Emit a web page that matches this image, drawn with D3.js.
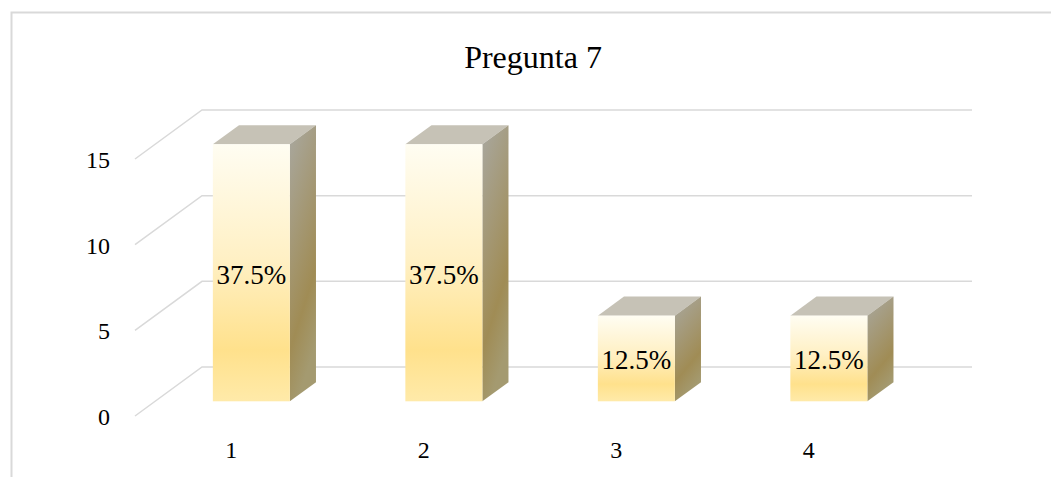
<!DOCTYPE html>
<html>
<head>
<meta charset="utf-8">
<script src="https://cdn.jsdelivr.net/npm/d3@7"></script>
<style>
body{margin:0;background:#fff;}
text{font-family:"Liberation Serif","Times New Roman",serif;fill:#000;}
</style>
</head>
<body>
<svg width="1051" height="477"></svg>
<script>
var categories = ["1", "2", "3", "4"];
var values = [15, 15, 5, 5];
var labels = ["37.5%", "37.5%", "12.5%", "12.5%"];
var yTicks = [0, 5, 10, 15];
var title = "Pregunta 7";

var svg = d3.select("svg");
var depthX = 67, depthY = -49;   // floor depth (front -> back wall)
var barFront = 0.3, barDepth = 0.39;

var xScale = d3.scaleBand().domain(categories).range([135, 905]).paddingInner(0.6).paddingOuter(0.3);
var yScale = d3.scaleLinear().domain([0, 15]).range([416, 159]);

// gradients
var defs = svg.append("defs");
var gf = defs.append("linearGradient").attr("id", "front").attr("x1", 0).attr("y1", 0).attr("x2", 0).attr("y2", 1);
gf.append("stop").attr("offset", "0%").attr("stop-color", "#fffdf2");
gf.append("stop").attr("offset", "45%").attr("stop-color", "#fff0c4");
gf.append("stop").attr("offset", "80%").attr("stop-color", "#ffe18c");
gf.append("stop").attr("offset", "100%").attr("stop-color", "#ffeaa9");
var gs = defs.append("linearGradient").attr("id", "side").attr("x1", 0).attr("y1", 0).attr("x2", 0.3).attr("y2", 1);
gs.append("stop").attr("offset", "0%").attr("stop-color", "#a9a8a0");
gs.append("stop").attr("offset", "75%").attr("stop-color", "#a08c55");
gs.append("stop").attr("offset", "100%").attr("stop-color", "#a49a70");

// chart border
svg.append("rect").attr("x", 11.5).attr("y", 12.5).attr("width", 1060).attr("height", 480)
  .style("fill", "none").style("stroke", "#d9d9d9").style("stroke-width", 2);

svg.append("text").attr("x", 533).attr("y", 68).attr("text-anchor", "middle")
  .style("font-size", "32px").text(title);

// gridlines: floor diagonal + back wall
var x0 = xScale.range()[0], x1 = xScale.range()[1];
var grid = svg.append("g").attr("id", "gridG");
grid.selectAll("path").data(yTicks).enter().append("path")
  .attr("d", function(d){
    var y = yScale(d);
    return "M" + x0 + "," + y + "L" + (x0 + depthX) + "," + (y + depthY) + "L" + (x1 + depthX) + "," + (y + depthY);
  })
  .style("fill", "none").style("stroke", "#d9d9d9").style("stroke-width", 1.5);

// y tick labels
svg.append("g").selectAll("text").data(yTicks).enter().append("text")
  .attr("x", 110).attr("y", function(d){return yScale(d) + 1})
  .attr("text-anchor", "end").attr("dominant-baseline", "central")
  .style("font-size", "24px").text(function(d){return d});

// x labels
svg.append("g").selectAll("text").data(categories).enter().append("text")
  .attr("x", function(d){return xScale(d) + xScale.bandwidth() / 2})
  .attr("y", 450).attr("text-anchor", "middle").attr("dominant-baseline", "central")
  .style("font-size", "24px").text(function(d){return d});

// bars
var fx = depthX * barFront, fy = depthY * barFront;
var sx = depthX * barDepth, sy = depthY * barDepth;
var bw = xScale.bandwidth();
var bars = svg.append("g").attr("id", "barsG").selectAll("g").data(values).enter().append("g");

bars.each(function(d, i){
  var g = d3.select(this);
  var left = xScale(categories[i]) + fx;
  var top = yScale(d) + fy;
  var bottom = yScale(0) + fy;
  // top face
  g.append("path")
    .attr("d", "M" + left + "," + top + "L" + (left + sx) + "," + (top + sy) + "L" + (left + bw + sx) + "," + (top + sy) + "L" + (left + bw) + "," + top + "Z")
    .style("fill", "#c6c2b6");
  // side face
  g.append("path")
    .attr("d", "M" + (left + bw) + "," + top + "L" + (left + bw + sx) + "," + (top + sy) + "L" + (left + bw + sx) + "," + (bottom + sy) + "L" + (left + bw) + "," + bottom + "Z")
    .style("fill", "url(#side)");
  // front face
  g.append("rect").attr("x", left).attr("y", top).attr("width", bw).attr("height", bottom - top)
    .style("fill", "url(#front)");
  g.append("text").attr("x", left + bw / 2).attr("y", (top + bottom) / 2 + 2)
    .attr("text-anchor", "middle").attr("dominant-baseline", "central")
    .style("font-size", "27px").text(labels[i]);
});
</script>
</body>
</html>
